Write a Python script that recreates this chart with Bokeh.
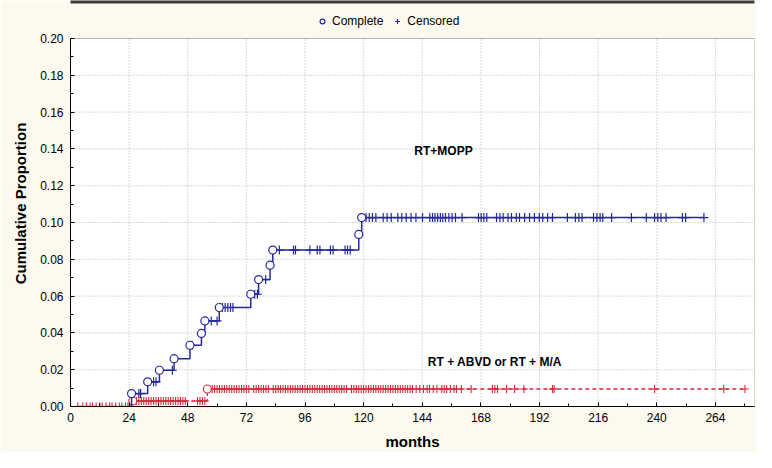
from bokeh.plotting import figure
from bokeh.models import (Range1d, FixedTicker, NumeralTickFormatter,
                          Legend, LegendItem, Label, BoxAnnotation)
from bokeh.embed import file_html
from bokeh.resources import INLINE
import numpy as np

# ---------------- data ----------------
x_ticks = [0, 24, 48, 72, 96, 120, 144, 168, 192, 216, 240, 264]
y_ticks = [0.00, 0.02, 0.04, 0.06, 0.08, 0.10, 0.12, 0.14, 0.16, 0.18, 0.20]
x_max = 280
y_max = 0.20

# RT+MOPP : complete events (time, cumulative proportion)
mopp_event_t = [25.0, 31.6, 36.4, 42.4, 48.9, 53.6, 55.0, 60.9, 73.8, 77.0, 81.7, 82.8, 118.0, 119.2]
mopp_event_p = [0.0070, 0.0134, 0.0197, 0.0260, 0.0333, 0.0397, 0.0465, 0.0538, 0.0610, 0.0690,
                0.0768, 0.0850, 0.0935, 0.1027]
mopp_end = 259.3
mopp_cens_t = [28.0, 28.7, 34.0, 35.0, 41.7, 49.8, 57.6, 60.0,
               62.2, 63.3, 64.4, 65.5, 66.5, 75.4, 76.5, 79.9,
               85.5, 91.3, 92.1, 98.0, 101.0, 102.1, 106.4, 107.5, 112.4, 113.4, 114.5,
               121.0, 122.3, 123.6, 125.0, 128.0, 129.6, 131.3, 134.0, 135.6, 137.4, 139.4,
               141.4, 144.1, 147.1, 148.2, 149.2, 150.3, 151.4, 152.4, 153.5, 154.9, 156.2,
               157.6, 160.3, 167.0, 168.1, 169.2, 170.4, 174.4, 175.8, 177.1, 179.1, 180.5,
               182.5, 183.8, 185.9, 187.9, 189.9, 191.9, 193.3, 195.3, 197.3, 203.4, 206.7,
               208.1, 209.4, 214.1, 215.5, 216.8, 217.9, 221.5, 229.6, 235.7, 239.1, 240.4,
               241.7, 243.8, 250.5, 251.8, 259.3]

# RT + ABVD or RT + M/A : complete events
abvd_start = 3.0
abvd_event_t = [25.5, 56.0]
abvd_event_p = [0.0030, 0.0095]
abvd_end = 276.1
abvd_cens_t = [3.0, 5.0, 6.5, 8.0, 9.0, 10.5, 12.0, 13.0, 14.5, 16.0, 17.0, 18.5, 20.0, 21.0,
               22.5, 23.5,
               26.0, 27.0, 28.0, 29.0, 30.0, 31.0, 32.0, 33.0, 34.0, 35.0, 36.0, 37.0, 38.0,
               39.0, 40.0, 41.0, 42.0, 43.0, 44.0, 45.0, 46.0, 47.0, 52.0, 53.0, 54.0, 55.0,
               57.0, 58.0, 59.0, 60.0, 61.0, 62.0, 63.0, 64.0, 65.0, 66.0, 67.0, 68.0, 69.0,
               70.0, 71.0, 72.0, 73.0, 75.0, 76.0, 77.0, 78.0, 79.0, 80.0, 81.0, 83.0, 84.0,
               85.0, 86.0, 87.0, 88.0, 89.0, 90.0, 91.0, 92.0, 93.0, 94.0, 95.0, 96.0, 97.0,
               98.0, 99.0, 100.0, 101.0, 102.0, 103.0, 104.0, 105.0, 106.0, 107.0, 108.0,
               109.0, 110.0, 111.0, 112.0, 113.0, 115.0, 116.0, 117.0, 118.0, 119.0, 120.0,
               121.0, 122.0, 123.0, 124.0, 125.0, 126.0, 127.0, 128.0, 129.0, 130.0, 131.0,
               132.0, 133.0, 134.0, 135.0, 136.0, 137.0, 138.0, 139.0, 140.0, 141.5, 143.0,
               144.5, 146.0, 147.0, 148.5, 150.0, 152.0, 153.0, 154.0, 155.5, 157.0, 158.0,
               160.0, 164.0, 172.7, 173.7, 174.8, 178.5, 181.8, 185.6, 197.3, 198.0, 239.1,
               267.4, 276.1]

label_mopp = "RT+MOPP"
label_abvd = "RT + ABVD or RT + M/A"
label_mopp_pos = (152.7, 0.139)
label_abvd_pos = (173.7, 0.0241)

# ---------------- layout / style ----------------
FIG_W, FIG_H = 756, 452
LEFT, RIGHT = 70, 2
PLOT_TOP, PLOT_BOTTOM = 38, 406          # pixel rows of the white plot box
BLUE = "#25299b"
RED = "#d22a3a"
CREAM = "#fcf9ee"
FONT = "Liberation Sans"

px_per_unit = (PLOT_BOTTOM - PLOT_TOP) / y_max
frame_top_val = PLOT_BOTTOM / px_per_unit   # value at the top pixel row of the figure


def step_value(ts, ev_t, ev_p):
    ev_t = np.asarray(ev_t)
    ev_p = np.asarray([0.0] + list(ev_p))
    idx = np.searchsorted(ev_t, np.asarray(ts), side="right")
    return ev_p[idx]


p = figure(width=FIG_W, height=FIG_H, output_backend="svg", toolbar_location=None,
           x_range=Range1d(0, x_max), y_range=Range1d(0, frame_top_val),
           min_border_left=LEFT, min_border_right=RIGHT, min_border_top=0,
           min_border_bottom=FIG_H - PLOT_BOTTOM)
p.background_fill_color = CREAM
p.border_fill_color = CREAM
p.outline_line_color = None
p.xgrid.visible = False
p.ygrid.visible = False

# white plot box
p.add_layout(BoxAnnotation(left=0, right=x_max, bottom=0, top=y_max, fill_color="white",
                           fill_alpha=1, line_color=None, level="underlay"))
# dark band at the top of the picture
p.add_layout(BoxAnnotation(left=0 - 1000, right=x_max + 1000,
                           bottom=frame_top_val - 3 / px_per_unit, top=frame_top_val + 1,
                           fill_color="#3a3a3a", fill_alpha=1, line_color=None, level="underlay"))

# dotted grid
p.segment(x0=x_ticks[1:], y0=[0] * (len(x_ticks) - 1), x1=x_ticks[1:], y1=[y_max] * (len(x_ticks) - 1),
          line_color="#b4b4b4", line_dash="1 2", line_width=1)
p.segment(x0=[0] * (len(y_ticks) - 2), y0=y_ticks[1:-1], x1=[x_max] * (len(y_ticks) - 2), y1=y_ticks[1:-1],
          line_color="#b4b4b4", line_dash="1 2", line_width=1)

# axes
p.xaxis.ticker = FixedTicker(ticks=x_ticks, minor_ticks=[t + 12 for t in x_ticks])
p.yaxis.ticker = FixedTicker(ticks=y_ticks, minor_ticks=[round(t + 0.01, 3) for t in y_ticks[:-1]])
p.yaxis.formatter = NumeralTickFormatter(format="0.00")
p.yaxis.bounds = (0, y_max)
for ax in (p.xaxis[0], p.yaxis[0]):
    ax.major_tick_in = 4
    ax.major_tick_out = 0
    ax.minor_tick_in = 3
    ax.minor_tick_out = 0
    ax.axis_line_color = "black"
    ax.major_label_text_font = FONT
    ax.major_label_text_font_size = "12px"
    ax.major_label_text_color = "black"
    ax.axis_label_text_font = FONT
    ax.axis_label_text_font_style = "bold"
    ax.axis_label_text_font_size = "15px"
    ax.axis_label_text_color = "black"
p.xaxis.axis_label = "months"
p.yaxis.axis_label = "Cumulative Proportion"
p.xaxis.major_label_standoff = 6
p.yaxis.major_label_standoff = 7
p.xaxis.axis_label_standoff = 8
p.yaxis.axis_label_standoff = 8

# --- ABVD curve (red, dashed)
abvd_x = [abvd_start] + abvd_event_t + [abvd_end]
abvd_y = [0.0] + abvd_event_p + [abvd_event_p[-1]]
p.step(abvd_x, abvd_y, mode="after", line_color=RED, line_width=1.3, line_dash="4 3")
abvd_cy = step_value(abvd_cens_t, abvd_event_t, abvd_event_p)
p.scatter(abvd_cens_t, abvd_cy, marker="cross", size=8, line_color=RED, line_width=1.1)
p.scatter(abvd_event_t, abvd_event_p, marker="circle", size=8, line_color=RED,
          fill_color="white", line_width=1.1)

# --- MOPP curve (blue)
mopp_x = [mopp_event_t[0]] + mopp_event_t + [mopp_end]
mopp_y = [0.0] + mopp_event_p + [mopp_event_p[-1]]
p.step(mopp_x, mopp_y, mode="after", line_color=BLUE, line_width=1.5)
mopp_cy = step_value(mopp_cens_t, mopp_event_t, mopp_event_p)
cens_r = p.scatter(mopp_cens_t, mopp_cy, marker="cross", size=9, line_color=BLUE, line_width=1.2)
comp_r = p.scatter(mopp_event_t, mopp_event_p, marker="circle", size=8, line_color=BLUE,
                   fill_color="white", line_width=1.2)

# black border of the plot box
p.add_layout(BoxAnnotation(left=0, right=x_max, bottom=0, top=y_max, fill_alpha=0,
                           line_color="black", line_width=1, level="overlay"))

# labels
for txt, pos in ((label_mopp, label_mopp_pos), (label_abvd, label_abvd_pos)):
    p.add_layout(Label(x=pos[0], y=pos[1], text=txt,
                       text_font=FONT, text_font_style="bold", text_font_size="12px",
                       text_align="center", text_baseline="middle", text_color="black"))

legend = Legend(items=[LegendItem(label="Complete", renderers=[comp_r]),
                       LegendItem(label="Censored", renderers=[cens_r])],
                orientation="horizontal", location=(244, PLOT_BOTTOM - 30),
                label_text_font=FONT, label_text_font_size="12px", label_text_color="black",
                background_fill_alpha=0, border_line_alpha=0,
                padding=2, margin=0, spacing=8, glyph_width=12, glyph_height=12,
                label_standoff=4)
p.add_layout(legend)

open("out.html", "w").write(file_html(p, INLINE))
